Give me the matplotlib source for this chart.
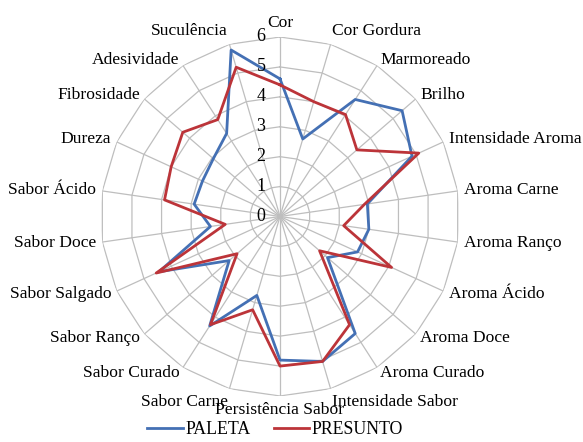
import numpy as np
import matplotlib
matplotlib.use('Agg')
import matplotlib.pyplot as plt
from matplotlib.lines import Line2D
from matplotlib.transforms import offset_copy

# categorias (sentido horário a partir do topo)
categorias = ['Cor', 'Cor Gordura', 'Marmoreado', 'Brilho', 'Intensidade Aroma',
              'Aroma Carne', 'Aroma Ranço', 'Aroma Ácido', 'Aroma Doce',
              'Aroma Curado', 'Intensidade Sabor', 'Persistência Sabor',
              'Sabor Carne', 'Sabor Curado', 'Sabor Ranço', 'Sabor Salgado',
              'Sabor Doce', 'Sabor Ácido', 'Dureza', 'Fibrosidade',
              'Adesividade', 'Suculência']

paleta = [4.6, 2.7, 4.65, 5.4, 4.85, 2.95, 3.0, 2.85, 2.1, 4.65, 5.05,
          4.8, 2.75, 4.35, 2.25, 4.45, 2.35, 2.9, 2.85, 2.95, 3.3, 5.8]
presunto = [4.4, 4.0, 4.05, 3.4, 5.1, 2.85, 2.15, 4.1, 1.75, 4.3, 5.05,
            5.0, 3.25, 4.3, 1.9, 4.55, 1.85, 3.9, 4.0, 4.3, 3.85, 5.2]

escala = [0, 1, 2, 3, 4, 5, 6]

cor_paleta = '#4470B4'
cor_presunto = '#BC3439'
cor_grade = '#BEBEBE'

plt.rcParams['font.family'] = ['Liberation Serif', 'DejaVu Serif']

fig = plt.figure(figsize=(5.83, 4.42), dpi=100)
ax = fig.add_axes([0.1724, 0.1041, 0.6158, 0.8122], projection='polar')
ax.set_theta_zero_location('N')
ax.set_theta_direction(-1)

n = len(categorias)
ang = np.linspace(0, 2 * np.pi, n, endpoint=False)
ang_f = np.append(ang, ang[0])

# grade poligonal
for r in escala[1:]:
    ax.plot(ang_f, [r] * (n + 1), color=cor_grade, lw=0.9, zorder=1)
for a in ang:
    ax.plot([a, a], [0, escala[-1]], color=cor_grade, lw=0.9, zorder=1)

ax.plot(ang_f, paleta + paleta[:1], color=cor_paleta, lw=2.0, zorder=3)
ax.plot(ang_f, presunto + presunto[:1], color=cor_presunto, lw=2.0, zorder=4)

ax.set_ylim(0, 6)
ax.grid(False)
ax.spines['polar'].set_visible(False)
ax.set_xticks([])
ax.set_yticks([])
ax.patch.set_alpha(0)

# rótulos das categorias
for a, txt in zip(ang, categorias):
    s, c = np.sin(a), np.cos(a)
    ha = 'center' if abs(s) < 0.05 else ('left' if s > 0 else 'right')
    va = 'center'
    if c > 0.9:
        va = 'bottom'
    elif c < -0.9:
        va = 'top'
    ax.text(a, 6.2, txt, ha=ha, va=va, fontsize=12.6, color='black')

# rótulos da escala
tr = offset_copy(ax.transData, fig=fig, x=-19, y=0, units='dots')
for r in escala:
    ax.text(0, r, str(r), transform=tr, ha='center', va='center',
            fontsize=13, color='black')

handles = [Line2D([], [], color=cor_paleta, lw=2.0),
           Line2D([], [], color=cor_presunto, lw=2.0)]
fig.legend(handles, ['PALETA', 'PRESUNTO'], loc='lower center',
           bbox_to_anchor=(0.472, -0.027), ncol=2, frameon=False,
           fontsize=12.8, handlelength=2.0, handletextpad=0.15,
           columnspacing=1.3)

fig.savefig('out.png', dpi=100)
